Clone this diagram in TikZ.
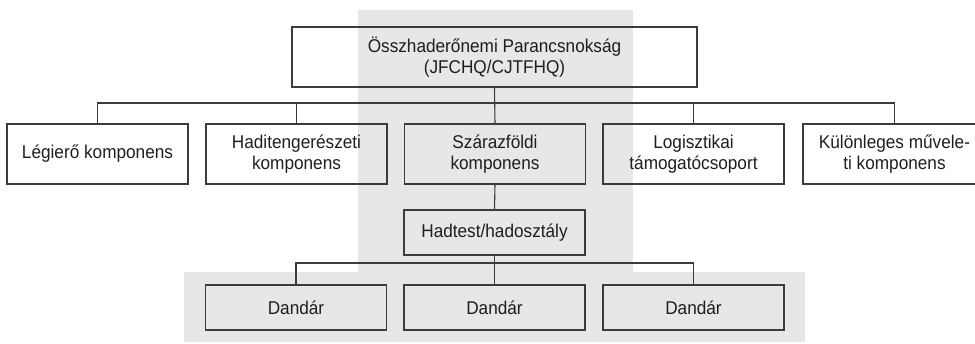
\documentclass[tikz,border=0pt]{standalone}
\usepackage{fontspec}
\setmainfont{Liberation Sans}[FakeStretch=0.93]
\definecolor{bandgray}{HTML}{E6E7E8}
\definecolor{linegray}{HTML}{3C3C3C}
\definecolor{txt}{HTML}{1E1E1E}
\begin{document}
\begin{tikzpicture}[x=1pt,y=-1pt,
  box/.style={draw=linegray, line width=1.1pt, inner sep=0pt, align=center,
    text=txt, font=\fontsize{18.5}{21.5}\selectfont,
    minimum width=181pt, minimum height=60pt},
  smallbox/.style={box, minimum height=45pt},
  conn/.style={draw=linegray, line width=1.1pt}]
\useasboundingbox (0,0) rectangle (975,343);
\clip (0,0) rectangle (975,343);
% gray background bands
\fill[bandgray] (358,10) rectangle (633,272);
\fill[bandgray] (184,272) rectangle (805,342);
% nodes
\node[box, minimum width=405pt] (top) at (494.5,57) {Összhaderőnemi Parancsnokság\\(JFCHQ/CJTFHQ)};
\node[box] (leg) at (97.5,154) {Légierő komponens};
\node[box] (hadi) at (296.5,154) {Haditengerészeti\\komponens};
\node[box] (szar) at (495,154) {Szárazföldi\\komponens};
\node[box] (log) at (693.5,154) {Logisztikai\\támogatócsoport};
\node[box, minimum width=183pt] (kul) at (894.5,154) {Különleges művele-\\ti komponens};
\node[smallbox] (hadt) at (494.5,232.5) {Hadtest/hadosztály};
\node[smallbox] (d1) at (296,307.5) {Dandár};
\node[smallbox] (d2) at (494.5,307.5) {Dandár};
\node[smallbox] (d3) at (693.5,307.5) {Dandár};
% bus coordinates
\coordinate (bus1) at (0,103);
\coordinate (bus2) at (0,263);
% connectors top level
\draw[conn] (top.south) -- (szar.north);
\draw[conn] (leg.north) |- (bus1 -| kul.north) -- (kul.north);
\draw[conn] (hadi.north) -- (hadi.north |- bus1);
\draw[conn] (log.north) -- (log.north |- bus1);
% lower level
\draw[conn] (szar.south) -- (hadt.north);
\draw[conn] (hadt.south) -- (d2.north);
\draw[conn] (d1.north) |- (bus2 -| d3.north) -- (d3.north);
\end{tikzpicture}
\end{document}
